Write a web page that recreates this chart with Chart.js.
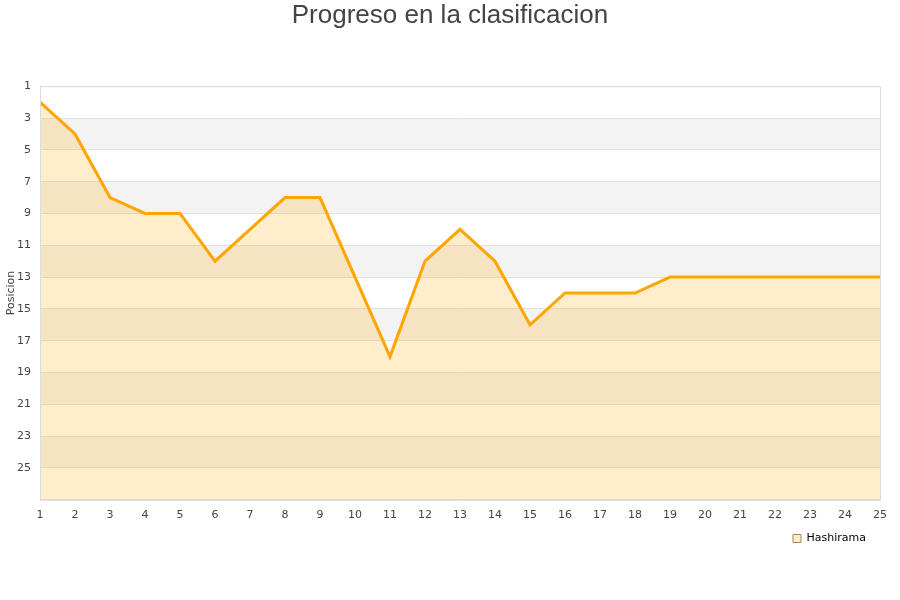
<!DOCTYPE html>
<html>
<head>
<meta charset="utf-8">
<script src="https://cdn.jsdelivr.net/npm/chart.js@4/dist/chart.umd.min.js"></script>
<style>
  html, body { margin: 0; padding: 0; background: #fff; }
  #wrap { width: 900px; height: 600px; }
</style>
</head>
<body>
<div id="wrap"><canvas id="posChart" width="900" height="600"></canvas></div>
<script>
// jornadas y posiciones
const jornadas = [1, 2, 3, 4, 5, 6, 7, 8, 9, 10, 11, 12, 13, 14, 15, 16, 17, 18, 19, 20, 21, 22, 23, 24, 25];
const posiciones = [2, 4, 8, 9, 9, 12, 10, 8, 8, 13, 18, 12, 10, 12, 16, 14, 14, 14, 13, 13, 13, 13, 13, 13, 13];
const posMin = 1;
const posMax = 27;

// franjas alternas, borde del area y titulo del eje Y
const bandas = {
    id: 'bandas',
    afterLayout(chart) {
        // leyenda un poco mas a la izquierda
        chart.legend.right -= 24;
    },
    beforeDraw(chart) {
        const { ctx, chartArea: a, scales: { y } } = chart;
        ctx.save();
        ctx.fillStyle = '#f3f3f3';
        for (let v = 3; v < posMax; v += 4) {
            const t = y.getPixelForValue(v);
            const b = y.getPixelForValue(v + 2);
            ctx.fillRect(a.left, t, a.right - a.left, b - t);
        }
        ctx.restore();
    },
    afterDraw(chart) {
        const { ctx, chartArea: a } = chart;
        ctx.save();
        ctx.strokeStyle = '#dcdcdc';
        ctx.lineWidth = 1;
        ctx.strokeRect(a.left + 0.5, a.top + 0.5, a.right - a.left, a.bottom - a.top);
        // titulo eje Y
        ctx.translate(11, (a.top + a.bottom) / 2);
        ctx.rotate(-Math.PI / 2);
        ctx.fillStyle = '#444';
        ctx.font = '11px "DejaVu Sans"';
        ctx.textAlign = 'center';
        ctx.textBaseline = 'middle';
        ctx.fillText('Posicion', 0, 0);
        ctx.restore();
    }
};

new Chart(document.getElementById('posChart'), {
    type: 'line',
    data: {
        labels: jornadas,
        datasets: [{
            label: 'Hashirama',
            data: posiciones,
            borderColor: '#ffa500',
            backgroundColor: 'rgba(255, 165, 0, 0.2)',
            borderWidth: 3,
            pointRadius: 0,
            tension: 0,
            fill: { value: posMax }
        }]
    },
    options: {
        responsive: false,
        animation: false,
        layout: { padding: { left: 0, right: 0, top: 0, bottom: 46 } },
        scales: {
            x: {
                type: 'linear',
                min: 1,
                max: 25,
                offset: false,
                afterFit: s => { s.paddingRight = 20; },
                grid: { display: false },
                border: { color: '#dcdcdc' },
                ticks: {
                    stepSize: 1,
                    color: '#444',
                    font: { family: 'DejaVu Sans', size: 11 },
                    maxRotation: 0,
                    padding: 1
                }
            },
            y: {
                reverse: true,
                min: posMin,
                max: posMax,
                afterFit: s => { s.width = 40; },
                grid: { color: '#e2e2e2', drawTicks: false },
                border: { color: '#dcdcdc' },
                ticks: {
                    stepSize: 2,
                    color: '#444',
                    font: { family: 'DejaVu Sans', size: 11 },
                    padding: 9,
                    callback: v => (v < posMax ? v : '')
                }
            }
        },
        plugins: {
            title: {
                display: true,
                text: 'Progreso en la clasificacion',
                color: '#444',
                font: { family: 'Liberation Sans', size: 26, weight: 'normal' },
                padding: { top: 0, bottom: 55 }
            },
            legend: {
                position: 'bottom',
                align: 'end',
                labels: {
                    color: '#222',
                    font: { family: 'DejaVu Sans', size: 11 },
                    boxWidth: 8,
                    boxHeight: 8,
                    padding: 10,
                    generateLabels: chart => [{
                        text: 'Hashirama',
                        fillStyle: '#ffecc9',
                        strokeStyle: '#a08a60',
                        lineWidth: 1,
                        datasetIndex: 0
                    }]
                }
            },
            tooltip: { enabled: false }
        }
    },
    plugins: [bandas]
});
</script>
</body>
</html>
